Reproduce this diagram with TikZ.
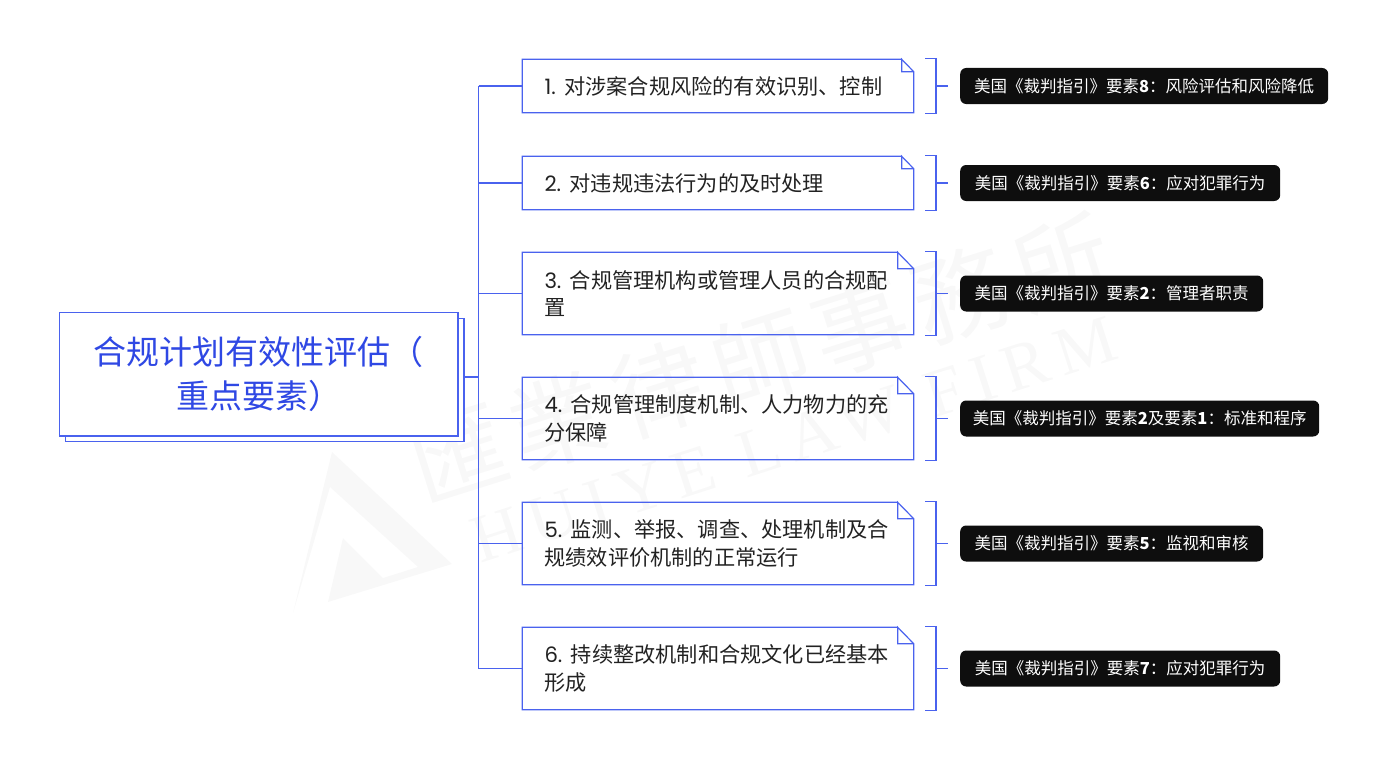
\documentclass[tikz,border=0pt]{standalone}
\usepackage{fontspec}
\setmainfont{Poppins}
\newfontfamily\cjk{Noto Sans CJK SC}
\newfontfamily\cjkmark[LetterSpace=10]{Noto Sans CJK TC}
\newfontfamily\latinmark[LetterSpace=15]{Liberation Serif}
\newcommand{\numgap}{\hspace{8.5pt}}
\definecolor{lineblue}{HTML}{4A62EE}
\definecolor{titleblue}{HTML}{2F48E4}
\definecolor{tagblack}{HTML}{0E0E0E}
\definecolor{itemgray}{HTML}{222222}
\definecolor{markgray}{HTML}{F8F8F8}
\tikzset{
    link/.style={draw=lineblue,line width=1.2pt},
    rootbox/.style={draw=lineblue,line width=1.2pt,fill=white,minimum width=398.5pt,minimum height=123.5pt,inner sep=0pt,align=center,text=titleblue,font=\fontsize{33}{44}\selectfont\cjk},
    itembox/.style={minimum width=391pt,inner sep=0pt,text width=347pt,align=left,text=itemgray,font=\fontsize{21.2}{27.5}\selectfont},
    tagbox/.style={fill=tagblack,rounded corners=6pt,minimum height=36pt,inner sep=0pt,text=white,font=\fontsize{16.5}{20}\selectfont\cjk,anchor=west},
}
\begin{document}
\begin{tikzpicture}[x=1pt,y=-1pt]
    \useasboundingbox (0,0) rectangle (1387,768);
    % watermark
    \fill[markgray] (332,452) -- (452,564) -- (328,602) -- (343,538) -- (383,578) -- (418,567) -- (330,487) -- (293,613) -- cycle;
    \node[rotate=17.5,text=markgray,font=\fontsize{96}{98}\selectfont\cjkmark] (markzh) at (760,358) {匯業律師事務所};
    \node[rotate=17.8,text=markgray,font=\fontsize{68}{70}\selectfont\latinmark] (markla) at (794,440) {HUIYE LAW FIRM};
    % root
    \node[rootbox] (shadow) at (264.75,380) {};
    \node[rootbox] (root) at (258.75,374.25) {合规计划有效性评估（\\重点要素）};
    \coordinate (trunk) at (478.5,377);
    \draw[link] (shadow.east|-trunk) -- (trunk);
    % items
    \foreach \i/\yc/\hh/\fold/\txt/\tagw/\tagtxt in {
        1/86/53/12/{1.\numgap{\cjk 对涉案合规风险的有效识别、控制}}/368/{美国《裁判指引》要素{\bfseries 8}：风险评估和风险降低},
        2/183/53/12/{2.\numgap{\cjk 对违规违法行为的及时处理}}/320/{美国《裁判指引》要素{\bfseries 6}：应对犯罪行为},
        3/293.5/82/16/{3.\numgap{\cjk 合规管理机构或管理人员的合规配\\置}}/303/{美国《裁判指引》要素{\bfseries 2}：管理者职责},
        4/418.5/82/16/{4.\numgap{\cjk 合规管理制度机制、人力物力的充\\分保障}}/359/{美国《裁判指引》要素{\bfseries 2}及要素{\bfseries 1}：标准和程序},
        5/543.5/82/16/{5.\numgap{\cjk 监测、举报、调查、处理机制及合\\规绩效评价机制的正常运行}}/303/{美国《裁判指引》要素{\bfseries 5}：监视和审核},
        6/668.5/82/16/{6.\numgap{\cjk 持续整改机制和合规文化已经基本\\形成}}/320/{美国《裁判指引》要素{\bfseries 7}：应对犯罪行为}} {
        \node[itembox,minimum height=\hh pt] (item\i) at (718,\yc) {\txt};
        \draw[link] (item\i.north east) ++(-\fold,0) coordinate (foldtop\i) -- (item\i.north west) -- (item\i.south west) -- (item\i.south east) -- ++(0,{-\hh+\fold}) coordinate (foldside\i) -- (foldtop\i) -- (foldtop\i|-foldside\i) -- (foldside\i);
        \draw[link] (trunk|-item\i.west) -- (item\i.west);
        % bracket
        \coordinate (brtop\i) at (925,\yc-\hh/2-1);
        \coordinate (brbot\i) at (925,\yc+\hh/2+1);
        \coordinate (brmid\i) at (936,\yc);
        \node[tagbox,minimum width=\tagw pt] (tag\i) at (960,\yc) {\tagtxt};
        \draw[link] (brtop\i) -- (brtop\i-|brmid\i) -- (brbot\i-|brmid\i) -- (brbot\i);
        \draw[link] (brmid\i) -- ++(12,0) coordinate (stemend\i);
    }
    \draw[link] (trunk|-item1.west) -- (trunk|-item6.west);
\end{tikzpicture}
\end{document}
